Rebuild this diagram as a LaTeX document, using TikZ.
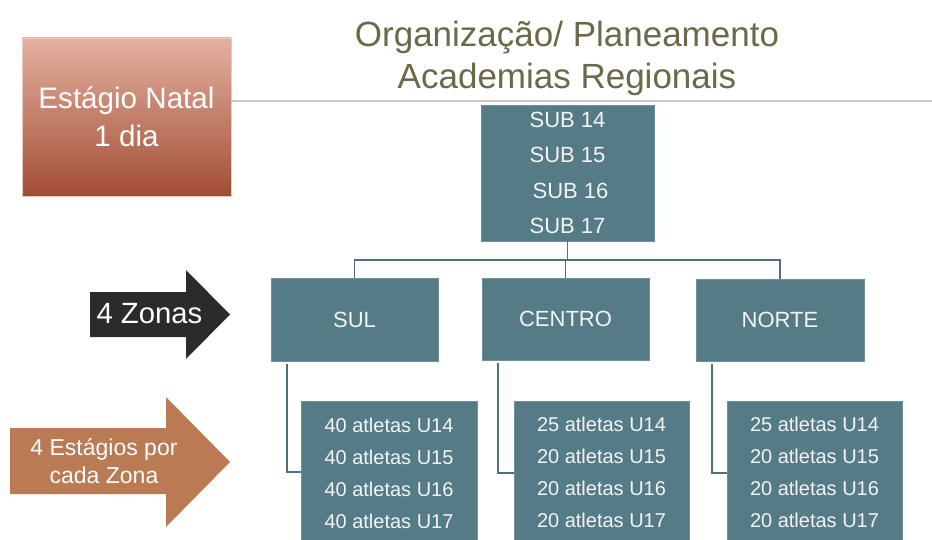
\documentclass[tikz,border=0pt]{standalone}
\usepackage{fontspec}
\setmainfont{Liberation Sans}
\definecolor{tealbox}{HTML}{557B87}
\definecolor{tealedge}{HTML}{6E919C}
\definecolor{connc}{HTML}{4F717D}
\definecolor{boxtxt}{HTML}{F4F4F4}
\definecolor{titlec}{HTML}{6B6947}
\definecolor{redtop}{HTML}{E4B1A1}
\definecolor{redbot}{HTML}{A14D33}
\definecolor{orangec}{HTML}{BA7A53}
\definecolor{blackc}{HTML}{2B2B2B}
\definecolor{grayline}{HTML}{C9C9C9}
\begin{document}
\begin{tikzpicture}[x=1pt,y=-1pt,
  box/.style={fill=tealbox,draw=tealedge,line width=0.7pt,inner sep=0pt,text=boxtxt,align=center},
  conn/.style={draw=connc,line width=1.8pt},
  wtxt/.style={text=boxtxt,inner sep=0pt,align=center},
  f22/.style={font=\fontsize{22pt}{35.3pt}\selectfont},
  f20/.style={font=\fontsize{20pt}{32pt}\selectfont}]
\useasboundingbox (0,0) rectangle (932,540);
\fill[white] (0,0) rectangle (932,540);

% title
\node[text=titlec,inner sep=0pt,align=center,font=\fontsize{35pt}{42pt}\selectfont] (title) at (567,58.2)
  {Organização/ Planeamento\\Academias Regionais};

% red box
\node[top color=redtop,bottom color=redbot,draw=redtop!70!white,line width=0.6pt,
  minimum width=209pt,minimum height=158pt,inner sep=0pt,text=white,align=center,
  font=\fontsize{29.6pt}{38pt}\selectfont] (natal) at (126.5,117) {Estágio Natal\\1 dia};

% gray rule
\coordinate (ruleend) at (932,101);
\draw[grayline,line width=1.6pt] (natal.east |- ruleend) -- (ruleend);

% top box
\node[box,f22,minimum width=173pt,minimum height=136pt] (sub) at (567.5,173)
  {SUB 14\\SUB 15\\\hspace*{6pt}SUB 16\\SUB 17};

% zone boxes
\node[box,f22,minimum width=167pt,minimum height=83pt] (sul) at (354.5,319.5) {SUL};
\node[box,f22,minimum width=167pt,minimum height=82pt] (centro) at (565.5,319) {CENTRO};
\node[box,f22,minimum width=168pt,minimum height=82pt] (norte) at (780,320) {NORTE};

% athlete boxes
\node[box,minimum width=176pt,minimum height=139pt] (sulatl) at (389,470.5) {};
\node[box,minimum width=175pt,minimum height=139pt] (centroatl) at (601.5,470.5) {};
\node[box,minimum width=175pt,minimum height=139pt] (norteatl) at (814.5,470.5) {};
\node[wtxt,f20] (sultxt) at (389,473) {40 atletas U14\\40 atletas U15\\40 atletas U16\\40 atletas U17};
\node[wtxt,f20] (centrotxt) at (601.5,472.5) {25 atletas U14\\20 atletas U15\\20 atletas U16\\20 atletas U17};
\node[wtxt,f20] (nortetxt) at (814.5,472.5) {25 atletas U14\\20 atletas U15\\20 atletas U16\\20 atletas U17};

% tree connectors
\coordinate (bar) at (567.5,260);
\draw[conn] (sub.south) -- (bar);
\draw[conn] (sul.north) |- (bar);
\draw[conn] (norte.north) |- (bar);
\draw[conn] (centro.north) -- (centro.north |- bar);

\draw[conn] ([xshift=16pt,yshift=-3pt]sul.south west) |- ([yshift=-71pt]sulatl.north west);
\draw[conn] ([xshift=16pt,yshift=-3pt]centro.south west) |- ([yshift=-72pt]centroatl.north west);
\draw[conn] ([xshift=16pt,yshift=-3pt]norte.south west) |- ([yshift=-72pt]norteatl.north west);

% black arrow
\fill[blackc] (90,292) -- (186,292) -- (186,270) -- (230,314.5) -- (186,359) -- (186,337) -- (90,337) -- cycle;
\node[text=white,inner sep=0pt,font=\fontsize{29.3pt}{34pt}\selectfont] (zonas) at (149.5,313.5) {4 Zonas};

% orange arrow
\fill[orangec] (10,428) -- (166,428) -- (166,397) -- (230,462) -- (166,527) -- (166,494) -- (10,494) -- cycle;
\node[text=white,inner sep=0pt,align=center,font=\fontsize{23pt}{28pt}\selectfont] (estagios) at (104,461.5)
  {4 Estágios por\\cada Zona};
\end{tikzpicture}
\end{document}
